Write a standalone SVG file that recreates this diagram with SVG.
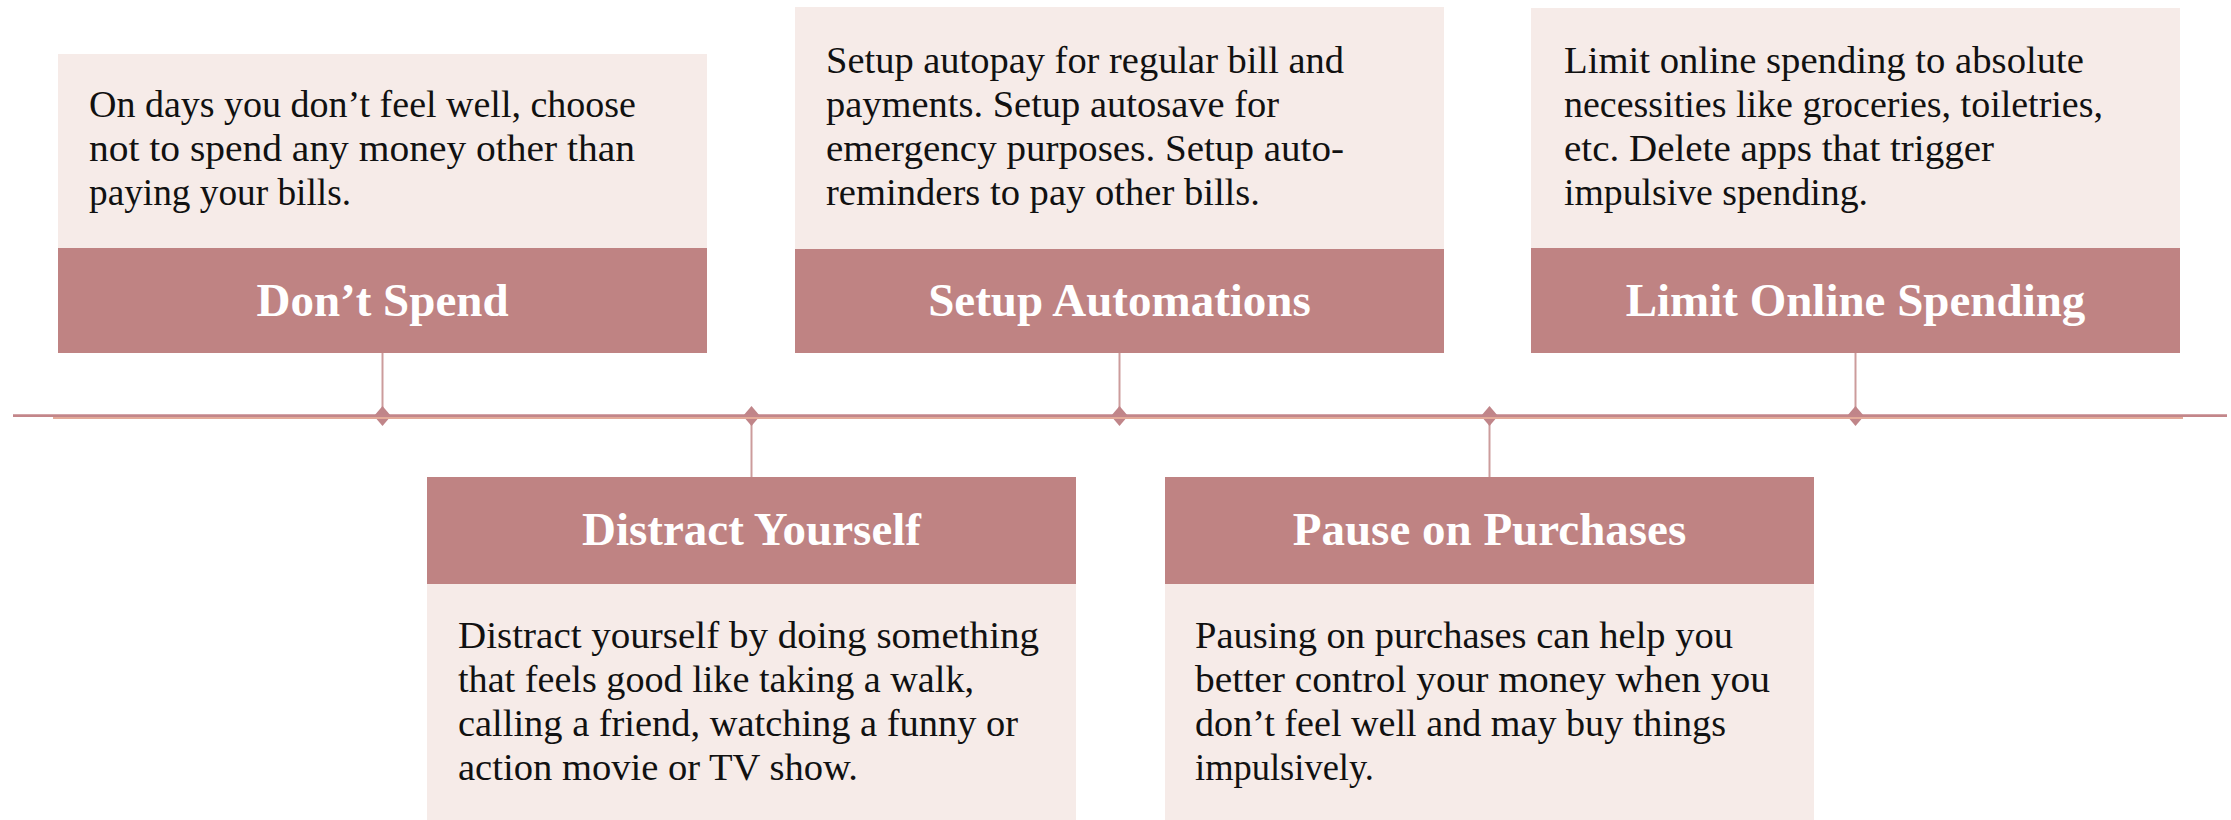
<svg xmlns="http://www.w3.org/2000/svg" width="2231" height="820" viewBox="0 0 2231 820">
  <style>
    .card { fill: #f6ebe8; }
    .band { fill: #bf8383; }
    .title { font-family: "Liberation Serif", "DejaVu Serif", serif; font-size: 47px; font-weight: bold; fill: #ffffff; text-anchor: middle; }
    .body { font-family: "Liberation Serif", "DejaVu Serif", serif; font-size: 38.5px; fill: #111111; }
    .stem { stroke: #cc9c9c; stroke-width: 2; fill: none; }
    .axis { stroke: #c3868a; stroke-width: 2.7; fill: none; }
    .axis2 { stroke: #e3aa98; stroke-width: 2; fill: none; }
    .knot { fill: #c08589; }
  </style>
  <defs>
    <path id="diamond" d="M0,-10 L8.5,0 L0,10 L-8.5,0 Z"/>
  </defs>

  <rect width="2231" height="820" fill="#ffffff"/>

  <!-- timeline axis, stems and knots -->
  <g id="connectors">
    <line class="stem" x1="382.5" y1="353" x2="382.5" y2="416"/>
    <line class="stem" x1="751.5" y1="416" x2="751.5" y2="477"/>
    <line class="stem" x1="1119.5" y1="353" x2="1119.5" y2="416"/>
    <line class="stem" x1="1489.5" y1="416" x2="1489.5" y2="477"/>
    <line class="stem" x1="1855.5" y1="353" x2="1855.5" y2="416"/>
    <use href="#diamond" class="knot" x="382.5" y="416"/>
    <use href="#diamond" class="knot" x="751.5" y="416"/>
    <use href="#diamond" class="knot" x="1119.5" y="416"/>
    <use href="#diamond" class="knot" x="1489.5" y="416"/>
    <use href="#diamond" class="knot" x="1855.5" y="416"/>
    <line class="axis" x1="13" y1="415.7" x2="2227" y2="415.7"/>
    <line class="axis2" x1="53" y1="418" x2="2183" y2="418"/>
  </g>

  <!-- step 1 -->
  <g id="dont-spend">
    <rect class="card" x="58" y="54" width="649" height="194"/>
    <rect class="band" x="58" y="248" width="649" height="105"/>
    <text class="body" x="89" y="117" textLength="547" lengthAdjust="spacingAndGlyphs">On days you don’t feel well, choose</text>
    <text class="body" x="89" y="161" textLength="546" lengthAdjust="spacingAndGlyphs">not to spend any money other than</text>
    <text class="body" x="89" y="205" textLength="262" lengthAdjust="spacingAndGlyphs">paying your bills.</text>
    <text class="title" x="382.5" y="316">Don’t Spend</text>
  </g>

  <!-- step 2 -->
  <g id="distract-yourself">
    <rect class="band" x="427" y="477" width="649" height="107"/>
    <rect class="card" x="427" y="584" width="649" height="236"/>
    <text class="title" x="751.5" y="545">Distract Yourself</text>
    <text class="body" x="458" y="648" textLength="581" lengthAdjust="spacingAndGlyphs">Distract yourself by doing something</text>
    <text class="body" x="458" y="692" textLength="516" lengthAdjust="spacingAndGlyphs">that feels good like taking a walk,</text>
    <text class="body" x="458" y="736" textLength="560" lengthAdjust="spacingAndGlyphs">calling a friend, watching a funny or</text>
    <text class="body" x="458" y="780" textLength="400" lengthAdjust="spacingAndGlyphs">action movie or TV show.</text>
  </g>

  <!-- step 3 -->
  <g id="setup-automations">
    <rect class="card" x="795" y="7" width="649" height="242"/>
    <rect class="band" x="795" y="249" width="649" height="104"/>
    <text class="body" x="826" y="73" textLength="518" lengthAdjust="spacingAndGlyphs">Setup autopay for regular bill and</text>
    <text class="body" x="826" y="117" textLength="453" lengthAdjust="spacingAndGlyphs">payments. Setup autosave for</text>
    <text class="body" x="826" y="161" textLength="518" lengthAdjust="spacingAndGlyphs">emergency purposes. Setup auto-</text>
    <text class="body" x="826" y="205" textLength="434" lengthAdjust="spacingAndGlyphs">reminders to pay other bills.</text>
    <text class="title" x="1119.5" y="316">Setup Automations</text>
  </g>

  <!-- step 4 -->
  <g id="pause-on-purchases">
    <rect class="band" x="1165" y="477" width="649" height="107"/>
    <rect class="card" x="1165" y="584" width="649" height="236"/>
    <text class="title" x="1489.5" y="545">Pause on Purchases</text>
    <text class="body" x="1195" y="648" textLength="538" lengthAdjust="spacingAndGlyphs">Pausing on purchases can help you</text>
    <text class="body" x="1195" y="692" textLength="575" lengthAdjust="spacingAndGlyphs">better control your money when you</text>
    <text class="body" x="1195" y="736" textLength="531" lengthAdjust="spacingAndGlyphs">don’t feel well and may buy things</text>
    <text class="body" x="1195" y="780" textLength="179" lengthAdjust="spacingAndGlyphs">impulsively.</text>
  </g>

  <!-- step 5 -->
  <g id="limit-online-spending">
    <rect class="card" x="1531" y="8" width="649" height="240"/>
    <rect class="band" x="1531" y="248" width="649" height="105"/>
    <text class="body" x="1564" y="73" textLength="520" lengthAdjust="spacingAndGlyphs">Limit online spending to absolute</text>
    <text class="body" x="1564" y="117" textLength="539" lengthAdjust="spacingAndGlyphs">necessities like groceries, toiletries,</text>
    <text class="body" x="1564" y="161" textLength="430" lengthAdjust="spacingAndGlyphs">etc. Delete apps that trigger</text>
    <text class="body" x="1564" y="205" textLength="304" lengthAdjust="spacingAndGlyphs">impulsive spending.</text>
    <text class="title" x="1855.5" y="316">Limit Online Spending</text>
  </g>
</svg>
